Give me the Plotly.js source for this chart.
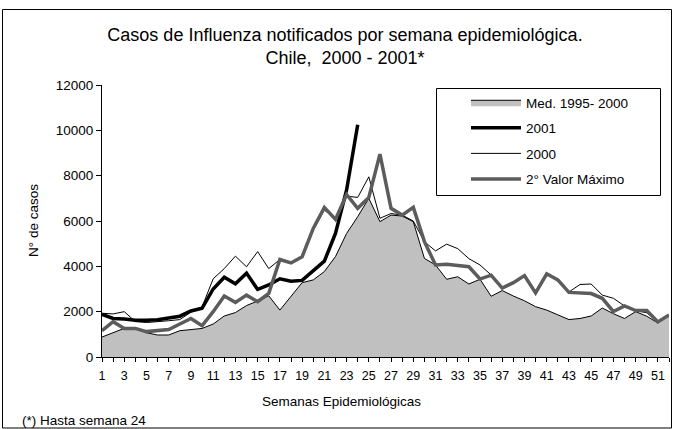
<!DOCTYPE html>
<html>
<head>
<meta charset="utf-8">
<script src="https://cdn.plot.ly/plotly-3.0.1.min.js"></script>
<style>
  html, body { margin: 0; padding: 0; background: #ffffff; }
  #chart { width: 674px; height: 429px; }
</style>
</head>
<body>
<div id="chart"></div>
<script>
// ---- Data ----
const weeks = [1,2,3,4,5,6,7,8,9,10,11,12,13,14,15,16,17,18,19,20,21,22,23,24,25,26,
               27,28,29,30,31,32,33,34,35,36,37,38,39,40,41,42,43,44,45,46,47,48,49,50,51,52];

const weeks2001 = [1,2,3,4,5,6,7,8,9,10,11,12,13,14,15,16,17,18,19,20,21,22,23,24];

const mediana = [880,1070,1265,1265,1070,970,970,1160,1210,1260,1455,1810,1960,2270,2470,2700,
                 2070,2700,3280,3400,3770,4430,5450,6190,7000,5970,6260,6220,5970,4350,4060,3430,
                 3540,3220,3430,2680,2930,2690,2480,2220,2070,1860,1650,1700,1810,2160,1910,1700,
                 2000,1800,1500,1850];

const casos2001 = [1880,1700,1680,1620,1620,1640,1720,1800,2030,2150,3000,3520,3230,3700,2980,3180,
                   3450,3340,3380,3830,4230,5450,7370,10250];

const casos2000 = [1930,1900,2000,1560,1520,1550,1600,1650,1980,2210,3450,3900,4450,3980,4650,3900,
                   4300,4150,4420,5600,6480,6100,7100,7040,7950,6120,6330,6260,6000,5090,4680,4980,
                   4780,4340,4060,3620,3080,3280,3590,2830,3670,3400,2870,3200,3220,2730,2590,2250,
                   2050,1950,1550,1850];

const segundoMax = [1160,1560,1260,1260,1120,1160,1210,1455,1700,1380,2000,2690,2410,2730,2440,2810,
                    4300,4150,4420,5670,6600,6070,7170,6560,7040,8950,6560,6260,6600,5090,4060,4090,
                    4030,3980,3440,3610,3040,3280,3590,2830,3670,3400,2850,2830,2800,2590,2000,2250,
                    2050,2050,1550,1850];

const seriesNames = ['Med. 1995- 2000', '2001', '2000', '2° Valor Máximo'];

const xTickVals = weeks;
const xTickText = weeks.map(w => (w % 2 === 1 ? String(w) : ''));

const yTickVals = [0, 2000, 4000, 6000, 8000, 10000, 12000];
const yTickText = ['0', '2000', '4000', '6000', '8000', '10000', '12000'];

// ---- Figure geometry ----
const W = 674, H = 429;
const M = { l: 102, r: 5, t: 85, b: 72 };
const PW = W - M.l - M.r, PH = H - M.t - M.b;
const px = x => (x - M.l) / PW;          // pixel -> paper x
const py = y => (H - M.b - y) / PH;      // pixel -> paper y

const font = 'Liberation Sans, Arial, sans-serif';

const traces = [
  {
    x: weeks, y: mediana, name: seriesNames[0], type: 'scatter', mode: 'lines',
    fill: 'tozeroy', fillcolor: '#c0c0c0', line: { color: '#000000', width: 1 },
    legendgroup: 'a'
  },
  {
    x: weeks2001, y: casos2001, name: seriesNames[1], type: 'scatter', mode: 'lines',
    line: { color: '#000000', width: 3.5 }, legendgroup: 'b'
  },
  {
    x: weeks, y: casos2000, name: seriesNames[2], type: 'scatter', mode: 'lines',
    line: { color: '#000000', width: 1 }, legendgroup: 'c'
  },
  {
    x: weeks, y: segundoMax, name: seriesNames[3], type: 'scatter', mode: 'lines',
    line: { color: '#5c5c5c', width: 3.5 }, legendgroup: 'd'
  }
];

const layout = {
  width: W, height: H,
  margin: M,
  paper_bgcolor: '#ffffff', plot_bgcolor: '#ffffff',
  font: { family: font, color: '#000000', size: 13 },
  title: {
    text: 'Casos de Influenza notificados por semana epidemiológica.<br>Chile,  2000 - 2001*',
    font: { family: font, size: 18, color: '#000000' },
    x: 345 / W, xanchor: 'center', xref: 'container',
    y: 1 - 41 / H, yanchor: 'top', yref: 'container'
  },
  showlegend: true,
  legend: {
    x: px(466), y: py(87), xanchor: 'left', yanchor: 'top',
    borderwidth: 0, bgcolor: 'rgba(0,0,0,0)',
    font: { family: font, size: 13.5, color: '#000000' },
    tracegroupgap: 5, traceorder: 'grouped', itemwidth: 50
  },
  xaxis: {
    range: [1, 52], tickmode: 'array', tickvals: xTickVals, ticktext: xTickText,
    ticks: 'outside', ticklen: 4, tickcolor: '#000000', tickwidth: 1,
    showline: true, linecolor: '#000000', linewidth: 1,
    showgrid: false, zeroline: false, ticklabelstandoff: 3,
    tickfont: { family: font, size: 12.5 }
  },
  yaxis: {
    range: [0, 12000], tickmode: 'array', tickvals: yTickVals, ticktext: yTickText,
    ticks: 'outside', ticklen: 5, tickcolor: '#000000', tickwidth: 1,
    showline: true, linecolor: '#000000', linewidth: 1,
    showgrid: false, zeroline: false,
    tickfont: { family: font, size: 13.5 }
  },
  shapes: [
    { type: 'rect', xref: 'paper', yref: 'paper',
      x0: px(2.5), x1: px(671.5), y0: py(9.5), y1: py(428),
      line: { color: '#000000', width: 1 }, fillcolor: 'rgba(0,0,0,0)', layer: 'below' },
    { type: 'rect', xref: 'paper', yref: 'paper',
      x0: px(436.5), x1: px(660.5), y0: py(88.5), y1: py(195.5),
      line: { color: '#000000', width: 1 }, fillcolor: '#ffffff', layer: 'above' }
  ],
  annotations: [
    { text: 'Semanas Epidemiológicas', xref: 'paper', yref: 'paper',
      x: px(341), y: py(401), xanchor: 'center', yanchor: 'middle', showarrow: false,
      font: { family: font, size: 13.5, color: '#000000' } },
    { text: 'N° de casos', xref: 'paper', yref: 'paper', textangle: -90,
      x: px(33), y: py(221), xanchor: 'center', yanchor: 'middle', showarrow: false,
      font: { family: font, size: 13.5, color: '#000000' } },
    { text: '(*) Hasta semana 24', xref: 'paper', yref: 'paper',
      x: px(20), y: py(420), xanchor: 'left', yanchor: 'middle', showarrow: false,
      font: { family: font, size: 13.5, color: '#000000' } }
  ]
};

Plotly.newPlot('chart', traces, layout, { displayModeBar: false, staticPlot: true });
</script>
</body>
</html>
